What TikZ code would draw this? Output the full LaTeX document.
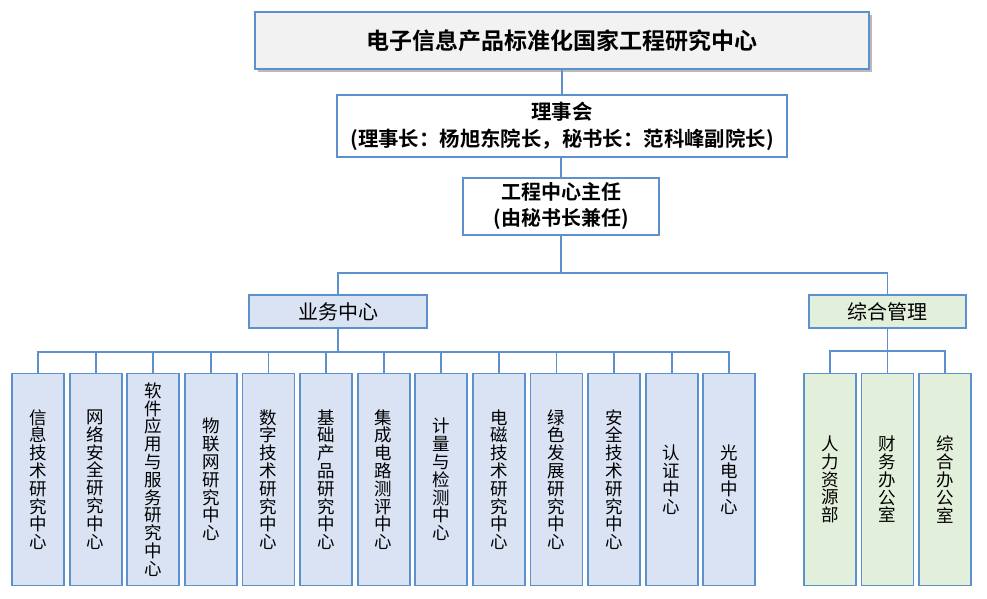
\documentclass[tikz,border=0pt]{standalone}
\usepackage{fontspec}
\setmainfont{Noto Sans CJK SC}[BoldFont={Noto Sans CJK SC Bold}]
\usetikzlibrary{shadows}
\definecolor{lineblue}{RGB}{92,145,206}
\definecolor{fillblue}{RGB}{218,227,243}
\definecolor{fillgreen}{RGB}{226,239,218}
\definecolor{fillgray}{RGB}{242,242,242}
\tikzset{
  box/.style={draw=lineblue, line width=1.8pt, rectangle, inner sep=0pt, align=center, text=black},
  vbox/.style={box, minimum width=52pt, minimum height=212pt, font=\fontsize{17.5}{17.8}\selectfont},
  bluebox/.style={vbox, fill=fillblue},
  greenbox/.style={vbox, fill=fillgreen},
  conn/.style={draw=lineblue, line width=1.8pt}
}
\begin{document}
\begin{tikzpicture}[x=1pt,y=-1pt]
\useasboundingbox (0,0) rectangle (987,598);
% top
\node[box, fill=fillgray, minimum width=614pt, minimum height=57pt,
  drop shadow={shadow xshift=2.5pt, shadow yshift=-3pt, fill=black!45, opacity=0.6},
  font=\fontsize{23}{26}\selectfont\bfseries] (title) at (562,40.5) {电子信息产品标准化国家工程研究中心};
\node[box, fill=white, minimum width=450pt, minimum height=62pt,
  font=\fontsize{20.4}{27}\selectfont\bfseries] (council) at (562,126) {理事会\\(理事长：杨旭东院长，秘书长：范科峰副院长)};
\node[box, fill=white, minimum width=196pt, minimum height=57pt,
  font=\fontsize{20}{26}\selectfont\bfseries] (director) at (561,206.5) {工程中心主任\\(由秘书长兼任)};
\node[box, fill=fillblue, minimum width=178pt, minimum height=33pt,
  font=\fontsize{20}{22}\selectfont] (biz) at (338,311.5) {业务中心};
\node[box, fill=fillgreen, minimum width=157pt, minimum height=33pt,
  font=\fontsize{20}{22}\selectfont] (admin) at (887.5,311.5) {综合管理};
% business children
\node[bluebox] (b1) at (38,479.5) {信\\息\\技\\术\\研\\究\\中\\心};
\node[bluebox] (b2) at (95.6,479.5) {网\\络\\安\\全\\研\\究\\中\\心};
\node[bluebox] (b3) at (153.2,479.5) {软\\件\\应\\用\\与\\服\\务\\研\\究\\中\\心};
\node[bluebox] (b4) at (210.8,479.5) {物\\联\\网\\研\\究\\中\\心};
\node[bluebox] (b5) at (268.4,479.5) {数\\字\\技\\术\\研\\究\\中\\心};
\node[bluebox] (b6) at (326,479.5) {基\\础\\产\\品\\研\\究\\中\\心};
\node[bluebox] (b7) at (383.6,479.5) {集\\成\\电\\路\\测\\评\\中\\心};
\node[bluebox] (b8) at (441.2,479.5) {计\\量\\与\\检\\测\\中\\心};
\node[bluebox] (b9) at (498.8,479.5) {电\\磁\\技\\术\\研\\究\\中\\心};
\node[bluebox] (b10) at (556.4,479.5) {绿\\色\\发\\展\\研\\究\\中\\心};
\node[bluebox] (b11) at (614,479.5) {安\\全\\技\\术\\研\\究\\中\\心};
\node[bluebox] (b12) at (671.6,479.5) {认\\证\\中\\心};
\node[bluebox] (b13) at (729.2,479.5) {光\\电\\中\\心};
% admin children
\node[greenbox] (g1) at (830,479.5) {人\\力\\资\\源\\部};
\node[greenbox] (g2) at (887.5,479.5) {财\\务\\办\\公\\室};
\node[greenbox] (g3) at (945,479.5) {综\\合\\办\\公\\室};
% connectors
\coordinate (bus1) at (561,273);
\coordinate (bus2) at (338,352);
\coordinate (bus3) at (887.5,351);
\draw[conn] (title.south) -- (council.north);
\draw[conn] (council.south -| director.north) -- (director.north);
\draw[conn] (director.south) -- (bus1);
\draw[conn] (bus1) -| (biz.north);
\draw[conn] (bus1) -| (admin.north);
\draw[conn] (biz.south) -- (bus2);
\foreach \i in {1,...,13} {\draw[conn] (bus2) -| (b\i.north);}
\draw[conn] (admin.south) -- (bus3);
\foreach \i in {1,2,3} {\draw[conn] (bus3) -| (g\i.north);}
\end{tikzpicture}
\end{document}
